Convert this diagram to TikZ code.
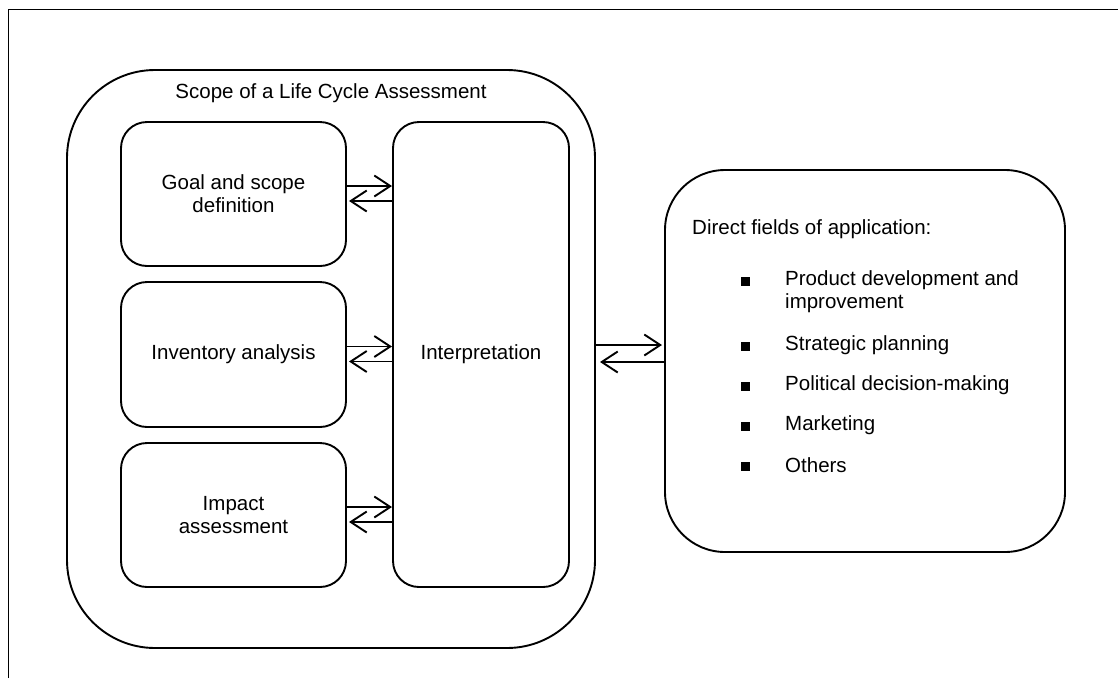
\documentclass[tikz,border=0pt]{standalone}
\usepackage{fontspec}
\setmainfont{Liberation Sans}
\usetikzlibrary{arrows.meta}
\begin{document}
\begin{tikzpicture}[x=1pt,y=-1pt,
  every node/.style={font=\fontsize{20.5}{23}\selectfont},
  box/.style={draw,line width=1.9pt,rounded corners=#1,inner sep=0pt,outer sep=0pt,align=center},
  box/.default=26pt,
  arr/.style={line width=1.9pt,-{Straight Barb[length=16pt,width=21pt,line width=1.9pt]}},
  bul/.style={fill=black,inner sep=0pt,minimum size=9pt},
  item/.style={anchor=west,inner sep=0pt,align=left}]
\useasboundingbox (0,0) rectangle (1118,678);
\draw[line width=1.9pt] (8.5,678) -- (8.5,9.5) -- (1118,9.5);
\node[box=88pt,minimum width=528pt,minimum height=578pt] (scope) at (331,359) {};
\node (title) at (331,93) {Scope of a Life Cycle Assessment};
\node[box,minimum width=225pt,minimum height=144pt] (goal) at (233.5,194) {Goal and scope\\definition};
\node[box,minimum width=225pt,minimum height=145pt] (inv) at (233.5,354.5) {Inventory analysis};
\node[box,minimum width=225pt,minimum height=144pt] (imp) at (233.5,515) {Impact\\assessment};
\node[box,minimum width=176pt,minimum height=465pt] (interp) at (481,354.5) {Interpretation};
\node[box=60pt,minimum width=400pt,minimum height=382pt] (right) at (865,361) {};
% arrows inner
\foreach \n in {goal,inv,imp}{
  \draw[arr,shorten >=1pt] ([yshift=8pt]\n.east) -- ([yshift=8pt]\n.east -| interp.west);
  \draw[arr,shorten >=3pt] ([yshift=-7pt]\n.east -| interp.west) -- ([yshift=-7pt]\n.east);
}
\draw[arr,shorten >=3pt] ([yshift=14pt]scope.east) -- ([yshift=14pt]scope.east -| right.west);
\draw[arr,shorten >=5pt] ([yshift=-3pt]scope.east -| right.west) -- ([yshift=-3pt]scope.east);
% right box text
\node[item] (head) at (692,229) {Direct fields of application:};
\node[bul] (b1) at (745,281) {};
\node[item] (t1) at (785,292) {Product development and\\improvement};
\node[bul] (b2) at (745,346) {};
\node[item] (t2) at (785,345) {Strategic planning};
\node[bul] (b3) at (745,386) {};
\node[item] (t3) at (785,385) {Political decision-making};
\node[bul] (b4) at (745,426) {};
\node[item] (t4) at (785,425) {Marketing};
\node[bul] (b5) at (745,466) {};
\node[item] (t5) at (785,465) {Others};
\end{tikzpicture}
\end{document}
